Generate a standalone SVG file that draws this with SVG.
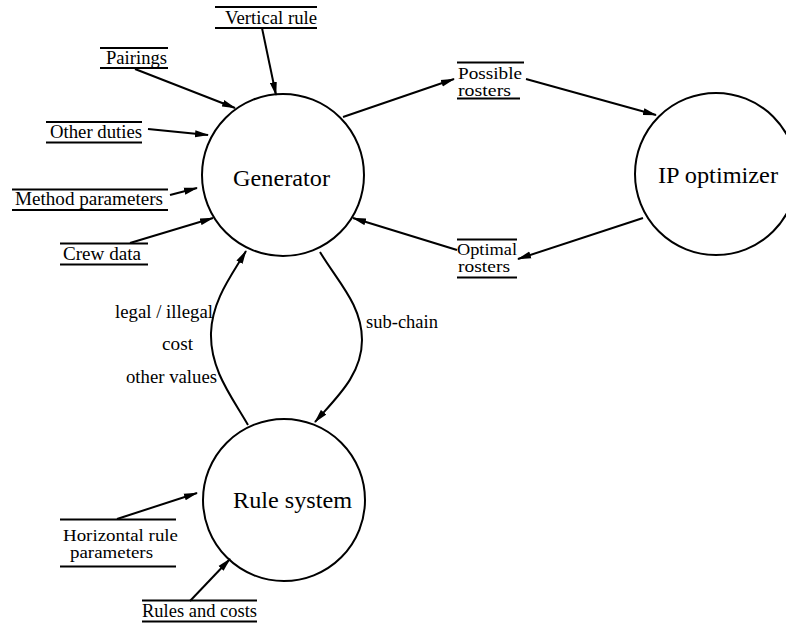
<svg xmlns="http://www.w3.org/2000/svg" width="786" height="623" viewBox="0 0 786 623">
  <style>
    .bg { fill: #ffffff; }
    .proc { fill: none; stroke: #000; stroke-width: 2; }
    .title { font-family: "Liberation Serif", "DejaVu Serif", "Noto Serif", serif; font-size: 24px; fill: #000; }
    .lbl { font-family: "Liberation Serif", "DejaVu Serif", "Noto Serif", serif; font-size: 18px; fill: #000; }
    .lbl2 { font-family: "Liberation Serif", "DejaVu Serif", "Noto Serif", serif; font-size: 16.5px; fill: #000; }
    .store line { stroke: #000; stroke-width: 2; }
    .flow { fill: none; stroke: #000; stroke-width: 2; marker-end: url(#arrow); }
  </style>
  <defs>
    <marker id="arrow" viewBox="0 0 14 8" refX="13" refY="4" markerWidth="14" markerHeight="8" markerUnits="userSpaceOnUse" orient="auto">
      <path d="M0,0.5 L14,4 L0,7.5 Z" fill="#000"/>
    </marker>
  </defs>

  <rect class="bg" x="0" y="0" width="786" height="623"/>

  <!-- processes -->
  <g id="generator">
    <circle class="proc" cx="283" cy="175" r="81"/>
    <text class="title" x="233" y="186" textLength="97" lengthAdjust="spacingAndGlyphs">Generator</text>
  </g>
  <g id="ip-optimizer">
    <circle class="proc" cx="716" cy="174" r="81"/>
    <text class="title" x="658" y="183" textLength="120" lengthAdjust="spacingAndGlyphs">IP optimizer</text>
  </g>
  <g id="rule-system">
    <circle class="proc" cx="284" cy="500" r="81"/>
    <text class="title" x="233" y="508" textLength="119" lengthAdjust="spacingAndGlyphs">Rule system</text>
  </g>

  <!-- data stores: a label between two rules -->
  <g id="store-vertical-rule" class="store">
    <line x1="215" y1="7" x2="317" y2="7"/>
    <text class="lbl" x="225" y="24" textLength="92" lengthAdjust="spacingAndGlyphs">Vertical rule</text>
    <line x1="215" y1="28" x2="317" y2="28"/>
  </g>
  <g id="store-pairings" class="store">
    <line x1="100" y1="48" x2="168" y2="48"/>
    <text class="lbl" x="106" y="64" textLength="61" lengthAdjust="spacingAndGlyphs">Pairings</text>
    <line x1="100" y1="68" x2="168" y2="68"/>
  </g>
  <g id="store-other-duties" class="store">
    <line x1="46" y1="122" x2="142" y2="122"/>
    <text class="lbl" x="50" y="138" textLength="92" lengthAdjust="spacingAndGlyphs">Other duties</text>
    <line x1="46" y1="142.5" x2="142" y2="142.5"/>
  </g>
  <g id="store-method-parameters" class="store">
    <line x1="12" y1="189.5" x2="168" y2="189.5"/>
    <text class="lbl" x="15" y="205" textLength="148" lengthAdjust="spacingAndGlyphs">Method parameters</text>
    <line x1="12" y1="210" x2="168" y2="210"/>
  </g>
  <g id="store-crew-data" class="store">
    <line x1="60" y1="243.5" x2="148" y2="243.5"/>
    <text class="lbl" x="63" y="260" textLength="78" lengthAdjust="spacingAndGlyphs">Crew data</text>
    <line x1="60" y1="264.5" x2="148" y2="264.5"/>
  </g>
  <g id="store-possible-rosters" class="store">
    <line x1="457" y1="62.5" x2="524" y2="62.5"/>
    <text class="lbl2" x="458" y="78.5" textLength="64" lengthAdjust="spacingAndGlyphs">Possible</text>
    <text class="lbl2" x="458" y="96" textLength="53" lengthAdjust="spacingAndGlyphs">rosters</text>
    <line x1="457" y1="98.5" x2="520" y2="98.5"/>
  </g>
  <g id="store-optimal-rosters" class="store">
    <line x1="457" y1="239.5" x2="517" y2="239.5"/>
    <text class="lbl2" x="457" y="254.5" textLength="60" lengthAdjust="spacingAndGlyphs">Optimal</text>
    <text class="lbl2" x="458" y="272" textLength="52" lengthAdjust="spacingAndGlyphs">rosters</text>
    <line x1="457" y1="277.5" x2="517" y2="277.5"/>
  </g>
  <g id="store-horizontal-rule-parameters" class="store">
    <line x1="60" y1="519.5" x2="176" y2="519.5"/>
    <text class="lbl2" x="63" y="540.5" textLength="115" lengthAdjust="spacingAndGlyphs">Horizontal rule</text>
    <text class="lbl2" x="70" y="558" textLength="83" lengthAdjust="spacingAndGlyphs">parameters</text>
    <line x1="60" y1="566.5" x2="176" y2="566.5"/>
  </g>
  <g id="store-rules-and-costs" class="store">
    <line x1="142" y1="600.5" x2="257" y2="600.5"/>
    <text class="lbl" x="142" y="617" textLength="115" lengthAdjust="spacingAndGlyphs">Rules and costs</text>
    <line x1="142" y1="621.5" x2="257" y2="621.5"/>
  </g>

  <!-- flows -->
  <g id="connectors">
    <line class="flow" x1="262" y1="28" x2="276" y2="95"/>
    <line class="flow" x1="135" y1="69" x2="235" y2="108"/>
    <line class="flow" x1="148" y1="129" x2="208" y2="135"/>
    <line class="flow" x1="170" y1="195" x2="197" y2="188"/>
    <line class="flow" x1="130" y1="243" x2="213" y2="218"/>
    <line class="flow" x1="343" y1="117" x2="454" y2="79"/>
    <line class="flow" x1="526" y1="79" x2="656" y2="115"/>
    <line class="flow" x1="643" y1="218" x2="518" y2="259"/>
    <line class="flow" x1="457" y1="250" x2="353" y2="218"/>
    <path class="flow" d="M248,425 C232,397 210,370 211,333 C212,300 232,275 246,251"/>
    <path class="flow" d="M320,252 C338,282 362,305 362,340 C362,375 336,398 315,422"/>
    <line class="flow" x1="117" y1="519" x2="197" y2="493"/>
    <line class="flow" x1="190" y1="601" x2="230" y2="559"/>
  </g>

  <!-- flow labels -->
  <g id="flow-labels">
    <text class="lbl" x="115" y="318" textLength="98" lengthAdjust="spacingAndGlyphs">legal / illegal</text>
    <text class="lbl" x="162" y="350" textLength="31" lengthAdjust="spacingAndGlyphs">cost</text>
    <text class="lbl" x="126" y="383" textLength="91" lengthAdjust="spacingAndGlyphs">other values</text>
    <text class="lbl" x="366" y="328" textLength="72" lengthAdjust="spacingAndGlyphs">sub-chain</text>
  </g>
</svg>
